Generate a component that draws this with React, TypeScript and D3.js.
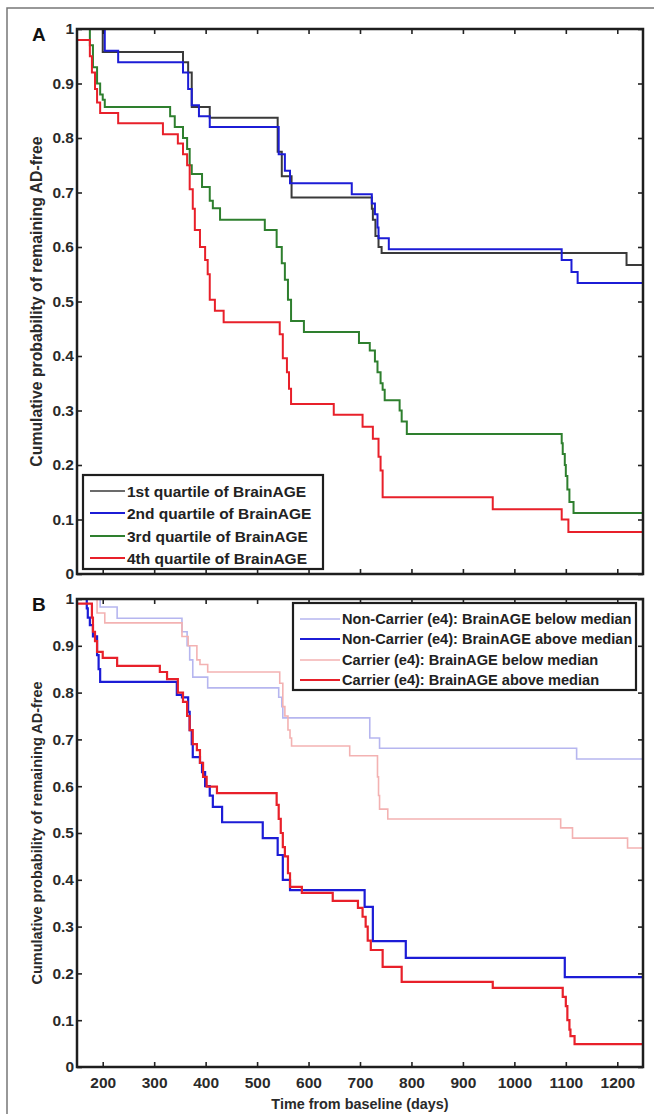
import React, { useEffect, useRef } from "react";
import * as d3 from "d3";

// ticks
const yTicks = [0, 0.1, 0.2, 0.3, 0.4, 0.5, 0.6, 0.7, 0.8, 0.9, 1];
const xTicks = [200, 300, 400, 500, 600, 700, 800, 900, 1000, 1100, 1200];

// Panel A: quartiles of BrainAGE (day, survival after event)
const q1Days = [150, 200, 356, 366, 373, 408, 540, 548, 567, 723, 725, 730, 736, 742, 1218];
const q1Surv = [1, 0.958, 0.939, 0.92, 0.857, 0.837, 0.775, 0.73, 0.691, 0.67, 0.65, 0.62, 0.6, 0.589, 0.567];

const q2Days = [150, 204, 230, 356, 366, 373, 387, 408, 542, 554, 564, 684, 723, 729, 734, 736, 756, 1092, 1111, 1123];
const q2Surv = [1, 0.96, 0.939, 0.92, 0.89, 0.86, 0.84, 0.82, 0.77, 0.74, 0.717, 0.697, 0.68, 0.66, 0.636, 0.616, 0.596, 0.576, 0.554, 0.534];

const q3Days = [150, 175, 181, 189, 195, 200, 204, 331, 340, 356, 364, 369, 373, 393, 408, 414, 428, 515, 538, 548, 554, 560, 566, 591, 698, 719, 729, 734, 740, 744, 748, 777, 781, 791, 1092, 1094, 1098, 1100, 1103, 1107, 1115];
const q3Surv = [1, 0.97, 0.93, 0.9, 0.88, 0.87, 0.857, 0.84, 0.82, 0.8, 0.78, 0.75, 0.734, 0.71, 0.685, 0.671, 0.65, 0.631, 0.6, 0.57, 0.54, 0.503, 0.464, 0.444, 0.424, 0.41, 0.39, 0.37, 0.35, 0.338, 0.319, 0.3, 0.28, 0.257, 0.24, 0.22, 0.2, 0.18, 0.155, 0.132, 0.112];

const q4Days = [150, 175, 179, 185, 189, 195, 230, 317, 346, 356, 364, 369, 375, 379, 389, 399, 404, 408, 418, 435, 544, 550, 558, 562, 566, 649, 705, 725, 736, 740, 744, 958, 1092, 1105];
const q4Surv = [0.98, 0.95, 0.92, 0.89, 0.865, 0.846, 0.827, 0.807, 0.79, 0.77, 0.75, 0.706, 0.67, 0.631, 0.6, 0.576, 0.55, 0.503, 0.483, 0.462, 0.44, 0.396, 0.37, 0.34, 0.312, 0.292, 0.27, 0.248, 0.215, 0.19, 0.141, 0.119, 0.1, 0.077];

// Panel B: APOE e4 carrier status x BrainAGE median split
const ncBelowDays = [150, 195, 228, 354, 364, 369, 375, 404, 542, 548, 550, 719, 738, 1121];
const ncBelowSurv = [1, 0.983, 0.959, 0.93, 0.9, 0.87, 0.833, 0.81, 0.79, 0.77, 0.746, 0.703, 0.681, 0.658];

const ncAboveDays = [150, 169, 171, 175, 181, 189, 192, 195, 344, 354, 366, 369, 373, 375, 389, 393, 399, 408, 414, 432, 511, 540, 550, 564, 709, 725, 789, 1098];
const ncAboveSurv = [1, 0.98, 0.96, 0.944, 0.92, 0.88, 0.85, 0.823, 0.795, 0.79, 0.759, 0.72, 0.69, 0.662, 0.65, 0.63, 0.6, 0.58, 0.556, 0.523, 0.489, 0.453, 0.4, 0.378, 0.342, 0.269, 0.233, 0.192];

const cBelowDays = [150, 189, 204, 354, 366, 383, 389, 404, 544, 550, 554, 560, 564, 567, 680, 734, 736, 738, 754, 1090, 1113, 1220];
const cBelowSurv = [1, 0.97, 0.949, 0.92, 0.9, 0.87, 0.86, 0.844, 0.82, 0.77, 0.75, 0.72, 0.703, 0.686, 0.665, 0.62, 0.58, 0.551, 0.53, 0.511, 0.489, 0.468];

const cAboveDays = [150, 179, 181, 185, 189, 200, 228, 311, 325, 346, 356, 364, 369, 375, 383, 389, 395, 402, 422, 538, 542, 546, 550, 554, 560, 564, 587, 647, 696, 705, 711, 715, 721, 744, 781, 958, 1094, 1100, 1103, 1107, 1109, 1117];
const cAboveSurv = [0.99, 0.96, 0.93, 0.91, 0.887, 0.874, 0.857, 0.844, 0.829, 0.8, 0.78, 0.75, 0.72, 0.69, 0.677, 0.65, 0.62, 0.599, 0.585, 0.56, 0.53, 0.5, 0.47, 0.45, 0.414, 0.385, 0.372, 0.355, 0.34, 0.321, 0.3, 0.27, 0.25, 0.214, 0.182, 0.169, 0.15, 0.13, 0.1, 0.08, 0.066, 0.049];

const legendA = ["1st quartile of BrainAGE", "2nd quartile of BrainAGE", "3rd quartile of BrainAGE", "4th quartile of BrainAGE"];
const legendB = [
  "Non-Carrier (e4): BrainAGE below median",
  "Non-Carrier (e4): BrainAGE above median",
  "Carrier (e4): BrainAGE below median",
  "Carrier (e4): BrainAGE above median",
];

const FONT = "'Liberation Sans', Arial, Helvetica, sans-serif";

export default function App() {
  const ref = useRef<SVGSVGElement>(null);

  useEffect(() => {
    const svg = d3.select(ref.current);
    svg.selectAll("*").remove();

    const xMin = 150, xMax = 1250;
    const left = 77, right = 643;
    const x = d3.scaleLinear().domain([xMin, xMax]).range([left, right]);

    // outer frame of the figure
    svg.append("rect")
      .attr("x", 7).attr("y", 8).attr("width", 720).attr("height", 1130)
      .attr("fill", "none").attr("stroke", "#777").attr("stroke-width", 1.5);

    function drawPanel(opts: {
      top: number; bottom: number; letter: string;
      series: { days: number[]; surv: number[]; color: string; width: number }[];
      legend: string[]; legendBox: { x: number; y: number; w: number; h: number; lineX0: number; lineX1: number; rowY: number[]; fontSize: number };
      legendColors: string[]; legendWidths: number[];
      showXLabels: boolean; labelSize: number;
    }) {
      const y = d3.scaleLinear().domain([0, 1]).range([opts.bottom, opts.top]);
      const g = svg.append("g");

      // lines
      const line = d3.line<[number, number]>()
        .x(d => x(d[0]))
        .y(d => y(d[1]))
        .curve(d3.curveStepAfter);

      opts.series.forEach(s => {
        const pts: [number, number][] = s.days.map((d, i) => [d, s.surv[i]]);
        pts.push([xMax, s.surv[s.surv.length - 1]]);
        g.append("path")
          .attr("d", line(pts))
          .attr("fill", "none")
          .attr("stroke", s.color)
          .attr("stroke-width", s.width);
      });

      const fmt = (d: number) => (d === 0 ? "0" : d === 1 ? "1" : d3.format(".1f")(d));

      // left axis
      const ax = g.append("g").attr("transform", `translate(${left},0)`)
        .call(d3.axisLeft(y).tickValues(yTicks).tickSizeInner(-5).tickSizeOuter(0).tickPadding(3).tickFormat(d => fmt(+d)));
      // right axis
      const axR = g.append("g").attr("transform", `translate(${right},0)`)
        .call(d3.axisRight(y).tickValues(yTicks).tickSizeInner(-5).tickSizeOuter(0).tickFormat(() => ""));
      // top axis
      const axT = g.append("g").attr("transform", `translate(0,${opts.top})`)
        .call(d3.axisTop(x).tickValues(xTicks).tickSizeInner(-5).tickSizeOuter(0).tickFormat(() => ""));
      // bottom axis
      const axB = g.append("g").attr("transform", `translate(0,${opts.bottom})`)
        .call(d3.axisBottom(x).tickValues(xTicks).tickSizeInner(-5).tickSizeOuter(0).tickPadding(10)
          .tickFormat(d => (opts.showXLabels ? String(d) : "")));

      [ax, axR, axT, axB].forEach(a => {
        a.select(".domain").remove();
        a.selectAll("line").attr("stroke", "#222").attr("stroke-width", 1.6);
        a.selectAll("text")
          .attr("font-family", FONT)
          .attr("font-weight", "bold")
          .attr("font-size", 15.5)
          .attr("fill", "#2a2a2a");
      });

      // box
      g.append("rect")
        .attr("x", left).attr("y", opts.top)
        .attr("width", right - left).attr("height", opts.bottom - opts.top)
        .attr("fill", "none").attr("stroke", "#1e1e1e").attr("stroke-width", 2.5);

      // y title
      g.append("text")
        .attr("transform", `translate(38,${(opts.top + opts.bottom) / 2}) rotate(-90)`)
        .attr("text-anchor", "middle")
        .attr("dominant-baseline", "middle")
        .attr("font-family", FONT)
        .attr("font-weight", "bold")
        .attr("font-size", opts.labelSize)
        .attr("fill", "#2a2a2a")
        .text("Cumulative probability of remaining AD-free");

      // panel letter
      g.append("text")
        .attr("x", 32).attr("y", opts.top + 12)
        .attr("font-family", FONT)
        .attr("font-weight", "bold")
        .attr("font-size", 19)
        .attr("fill", "#111")
        .text(opts.letter);

      // legend
      const lb = opts.legendBox;
      const lg = g.append("g");
      lg.append("rect")
        .attr("x", lb.x).attr("y", lb.y).attr("width", lb.w).attr("height", lb.h)
        .attr("fill", "#fff").attr("stroke", "#1e1e1e").attr("stroke-width", 2.2);
      opts.legend.forEach((label, i) => {
        lg.append("line")
          .attr("x1", lb.lineX0).attr("x2", lb.lineX1)
          .attr("y1", lb.rowY[i]).attr("y2", lb.rowY[i])
          .attr("stroke", opts.legendColors[i]).attr("stroke-width", opts.legendWidths[i]);
        lg.append("text")
          .attr("x", lb.lineX1 + 2).attr("y", lb.rowY[i])
          .attr("dominant-baseline", "central")
          .attr("font-family", FONT)
          .attr("font-weight", "bold")
          .attr("font-size", lb.fontSize)
          .attr("fill", "#222")
          .text(label);
      });
    }

    const black = "#3a3a3a", blue = "#1c1cd6", green = "#2e7f2e", red = "#e8202a";
    const fBlue = "#b6b6ef", fRed = "#f3b2b2";

    drawPanel({
      top: 29, bottom: 574, letter: "A",
      series: [
        { days: q1Days, surv: q1Surv, color: black, width: 2 },
        { days: q2Days, surv: q2Surv, color: blue, width: 2 },
        { days: q3Days, surv: q3Surv, color: green, width: 2 },
        { days: q4Days, surv: q4Surv, color: red, width: 2 },
      ],
      legend: legendA,
      legendBox: { x: 83, y: 475, w: 240, h: 94, lineX0: 90, lineX1: 125, rowY: [491, 513, 536, 558], fontSize: 15.5 },
      legendColors: [black, blue, green, red],
      legendWidths: [1.6, 2, 2, 2],
      showXLabels: false,
      labelSize: 15.8,
    });

    drawPanel({
      top: 599, bottom: 1067, letter: "B",
      series: [
        { days: ncBelowDays, surv: ncBelowSurv, color: fBlue, width: 1.6 },
        { days: cBelowDays, surv: cBelowSurv, color: fRed, width: 1.6 },
        { days: ncAboveDays, surv: ncAboveSurv, color: blue, width: 2.2 },
        { days: cAboveDays, surv: cAboveSurv, color: red, width: 2.2 },
      ],
      legend: legendB,
      legendBox: { x: 293, y: 603, w: 343, h: 87, lineX0: 300, lineX1: 340, rowY: [619, 639, 660, 680], fontSize: 14.6 },
      legendColors: [fBlue, blue, fRed, red],
      legendWidths: [1.6, 2.2, 1.6, 2.2],
      showXLabels: true,
      labelSize: 14.5,
    });

    svg.append("text")
      .attr("x", (left + right) / 2).attr("y", 1105)
      .attr("text-anchor", "middle")
      .attr("dominant-baseline", "middle")
      .attr("font-family", FONT)
      .attr("font-weight", "bold")
      .attr("font-size", 14.4)
      .attr("fill", "#2a2a2a")
      .text("Time from baseline (days)");
  }, []);

  return (
    <svg
      ref={ref}
      width={654}
      height={1114}
      style={{ position: "absolute", left: 0, top: 0, background: "#fff" }}
    />
  );
}
